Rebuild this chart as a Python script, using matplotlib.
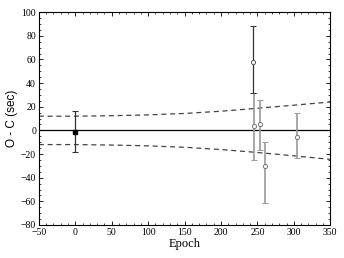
import matplotlib
matplotlib.use('Agg')
import matplotlib.pyplot as plt
from matplotlib.ticker import MultipleLocator

# timing data (epoch, O-C in sec, lower/upper error)
epoch_ref = [0]
oc_ref = [-1]
err_ref = [17]

epoch_new = [244, 245, 253, 261, 304]
oc_new = [58, 4, 5, -30, -6]
err_lo = [26, 29, 22, 31, 17]
err_hi = [30, 28, 21, 20, 21]

# envelope
env_epoch = [-50, 0, 50, 100, 150, 200, 250, 300, 350]
env_upper = [12, 12, 12.4, 13.1, 14.3, 16.2, 18.7, 21.3, 24]
env_lower = [-12, -12, -12.4, -13.1, -14.3, -16.2, -18.7, -21.5, -24.5]

plt.rcParams['font.family'] = ['Liberation Serif', 'DejaVu Serif']
fig = plt.figure(figsize=(3.44, 2.58), dpi=100)
ax = fig.add_axes([0.113, 0.128, 0.847, 0.825])

ax.axhline(0, color='black', lw=0.9, zorder=1)
ax.plot(env_epoch, env_upper, color='#444444', ls=(0, (4, 3)), lw=0.9)
ax.plot(env_epoch, env_lower, color='#444444', ls=(0, (4, 3)), lw=0.9)

# grey points
ax.errorbar(epoch_new[1:], oc_new[1:], yerr=[err_lo[1:], err_hi[1:]], fmt='o',
            ms=3, mfc='white', mec='#777777', mew=0.7, ecolor='#999999',
            elinewidth=1.2, capsize=2, capthick=0.8, zorder=3)
# dark point
ax.errorbar(epoch_new[:1], oc_new[:1], yerr=[err_lo[:1], err_hi[:1]], fmt='o',
            ms=3, mfc='white', mec='#555555', mew=0.7, ecolor='#333333',
            elinewidth=0.9, capsize=2, capthick=0.8, zorder=4)
# reference point
ax.errorbar(epoch_ref, oc_ref, yerr=err_ref, fmt='s', ms=2.5, color='black',
            ecolor='#333333', elinewidth=0.9, capsize=2, capthick=0.8, zorder=4)

ax.set_xlim(-50, 350)
ax.set_ylim(-80, 100)
ax.xaxis.set_major_locator(MultipleLocator(50))
ax.xaxis.set_minor_locator(MultipleLocator(10))
ax.yaxis.set_major_locator(MultipleLocator(20))
ax.yaxis.set_minor_locator(MultipleLocator(5))
ax.tick_params(which='both', direction='in', top=True, right=True, labelsize=7, pad=2)
ax.tick_params(which='major', length=3, width=0.6)
ax.tick_params(which='minor', length=1.5, width=0.5)
for s in ax.spines.values():
    s.set_linewidth(0.8)

ax.set_xlabel('Epoch', fontsize=9, labelpad=1)
ax.set_ylabel('O - C (sec)', fontsize=8.5, labelpad=2,
              family=['Liberation Sans', 'DejaVu Sans'])

plt.savefig('out.png', dpi=100)
